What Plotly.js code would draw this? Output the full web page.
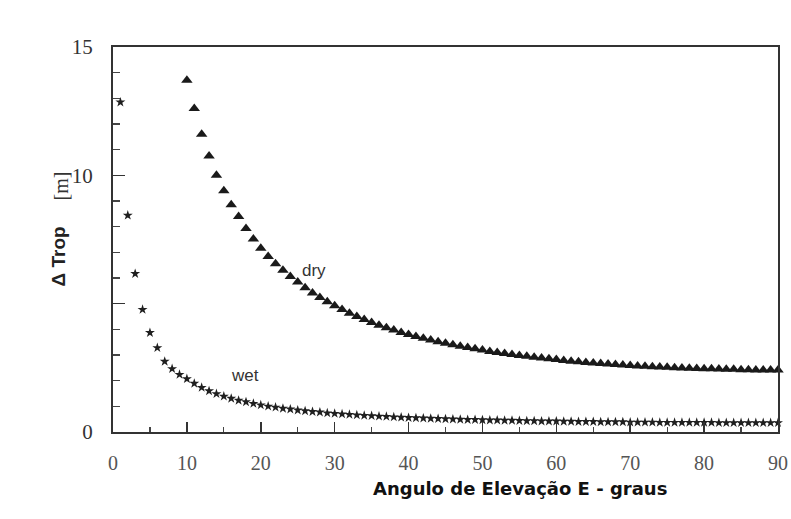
<!DOCTYPE html>
<html>
<head>
<meta charset="utf-8">
<script src="https://cdn.plot.ly/plotly-3.0.1.min.js"></script>
<style>html,body{margin:0;padding:0;background:#fff;}#chart{width:791px;height:519px;}</style>
</head>
<body>
<div id="chart"></div>
<script>
// Elevation angles (degrees)
const dryAngles = [10,11,12,13,14,15,16,17,18,19,20,21,22,23,24,25,26,27,28,29,30,31,32,33,34,35,36,37,38,39,40,41,42,43,44,45,46,47,48,49,50,51,52,53,54,55,56,57,58,59,60,61,62,63,64,65,66,67,68,69,70,71,72,73,74,75,76,77,78,79,80,81,82,83,84,85,86,87,88,89,90];
const dryDelay = [13.7,12.6,11.6,10.75,10.0,9.4,8.85,8.4,7.93,7.52,7.16,6.84,6.56,6.3,6.06,5.84,5.62,5.42,5.24,5.07,4.92,4.77,4.63,4.5,4.38,4.27,4.16,4.06,3.97,3.88,3.8,3.72,3.65,3.58,3.52,3.46,3.4,3.34,3.29,3.24,3.19,3.14,3.1,3.06,3.02,2.98,2.95,2.91,2.88,2.85,2.82,2.79,2.76,2.74,2.71,2.69,2.67,2.65,2.63,2.61,2.59,2.57,2.56,2.54,2.53,2.52,2.5,2.49,2.48,2.47,2.46,2.46,2.45,2.44,2.44,2.43,2.43,2.42,2.42,2.42,2.42];
const wetAngles = [1,2,3,4,5,6,7,8,9,10,11,12,13,14,15,16,17,18,19,20,21,22,23,24,25,26,27,28,29,30,31,32,33,34,35,36,37,38,39,40,41,42,43,44,45,46,47,48,49,50,51,52,53,54,55,56,57,58,59,60,61,62,63,64,65,66,67,68,69,70,71,72,73,74,75,76,77,78,79,80,81,82,83,84,85,86,87,88,89,90];
const wetDelay = [12.85,8.44,6.17,4.77,3.87,3.28,2.75,2.46,2.24,2.07,1.89,1.73,1.6,1.49,1.39,1.31,1.23,1.17,1.11,1.05,1.0,0.96,0.92,0.89,0.85,0.82,0.79,0.77,0.74,0.72,0.7,0.68,0.66,0.64,0.63,0.61,0.6,0.58,0.57,0.56,0.55,0.54,0.53,0.52,0.51,0.5,0.49,0.48,0.48,0.47,0.46,0.46,0.45,0.45,0.44,0.43,0.43,0.42,0.42,0.42,0.41,0.41,0.4,0.4,0.4,0.39,0.39,0.39,0.39,0.38,0.38,0.38,0.38,0.37,0.37,0.37,0.37,0.37,0.37,0.37,0.37,0.36,0.36,0.36,0.36,0.36,0.36,0.36,0.36,0.36];
const xTickVals = [0,10,20,30,40,50,60,70,80,90];
const xMinorVals = [5,15,25,35,45,55,65,75,85];
const yTickVals = [0,5,10,15];
const yTickText = ['0','','10','15'];
const yMinorVals = [1,2,3,4,6,7,8,9,11,12,13,14];

const traces = [
  {x: dryAngles, y: dryDelay, type:'scatter', mode:'markers', name:'dry',
   marker:{symbol:'triangle-up', size:10, color:'#1a1a1a'}, cliponaxis:false},
  {x: wetAngles, y: wetDelay, type:'scatter', mode:'markers', name:'wet',
   marker:{symbol:'star', size:7.5, color:'#1f1f1f'}, cliponaxis:false},
  // carrier for the minor-tick overlay axes (no visible marks)
  {x: [], y: [], type:'scatter', mode:'markers', xaxis:'x2', yaxis:'y2', hoverinfo:'skip', showlegend:false}
];

const layout = {
  width:791, height:519,
  margin:{l:113, r:13, t:47, b:87},
  paper_bgcolor:'#ffffff', plot_bgcolor:'#ffffff',
  showlegend:false,
  xaxis:{range:[0,90], tickmode:'array', tickvals:xTickVals, ticks:'inside', ticklen:10, tickwidth:1.5, tickcolor:'#333',
    showline:true, linecolor:'#333', linewidth:2, mirror:true, showgrid:false, zeroline:false,
    ticklabelstandoff:12,
    tickfont:{family:'Liberation Serif, Times New Roman, serif', size:20, color:'#555'}},
  yaxis:{range:[0,15], tickmode:'array', tickvals:yTickVals, ticktext:yTickText, ticks:'inside', ticklen:12, tickwidth:1.5, tickcolor:'#333',
    showline:true, linecolor:'#333', linewidth:2, mirror:true, showgrid:false, zeroline:false,
    ticklabelstandoff:14,
    tickfont:{family:'Liberation Serif, Times New Roman, serif', size:21, color:'#333'}},
  xaxis2:{overlaying:'x', anchor:'y', side:'bottom', range:[0,90], tickmode:'array', tickvals:xMinorVals,
    ticks:'inside', ticklen:5, tickwidth:1.2, tickcolor:'#444', showticklabels:false,
    showline:false, showgrid:false, zeroline:false},
  yaxis2:{overlaying:'y', anchor:'x', side:'left', range:[0,15], tickmode:'array', tickvals:yMinorVals,
    ticks:'inside', ticklen:7, tickwidth:1.2, tickcolor:'#444', showticklabels:false,
    showline:false, showgrid:false, zeroline:false},
  annotations:[
    {text:'dry', x:27.2, y:6.3, xref:'x', yref:'y', showarrow:false,
     font:{family:'Liberation Sans, Arial, sans-serif', size:17, color:'#333'}},
    {text:'wet', x:17.9, y:2.2, xref:'x', yref:'y', showarrow:false,
     font:{family:'Liberation Sans, Arial, sans-serif', size:17, color:'#333'}},
    {text:'<b>Angulo de Elevação E - graus</b>', x:520, y:501, xref:'paper', yref:'paper', showarrow:false,
     font:{family:'DejaVu Sans, Arial, sans-serif', size:18, color:'#111'}},
    {text:'<b>Δ Trop</b>', x:45, y:257, textangle:-90, showarrow:false,
     font:{family:'Liberation Sans, Arial, sans-serif', size:19, color:'#222'}},
    {text:'[m]', x:47, y:170, textangle:-90, showarrow:false,
     font:{family:'Liberation Serif, Times New Roman, serif', size:20, color:'#333'}}
  ]
};
// convert pixel-positioned annotations to paper coords
const pw = 791-113-13, ph = 519-47-87;
layout.annotations.forEach(a => {
  if (a.xref !== 'x') {
    a.xref = 'paper'; a.yref = 'paper';
    a.x = (a.x - 113)/pw; a.y = (519-87 - a.y)/ph;
  }
});
Plotly.newPlot('chart', traces, layout, {displayModeBar:false, staticPlot:true});
</script>
</body>
</html>
